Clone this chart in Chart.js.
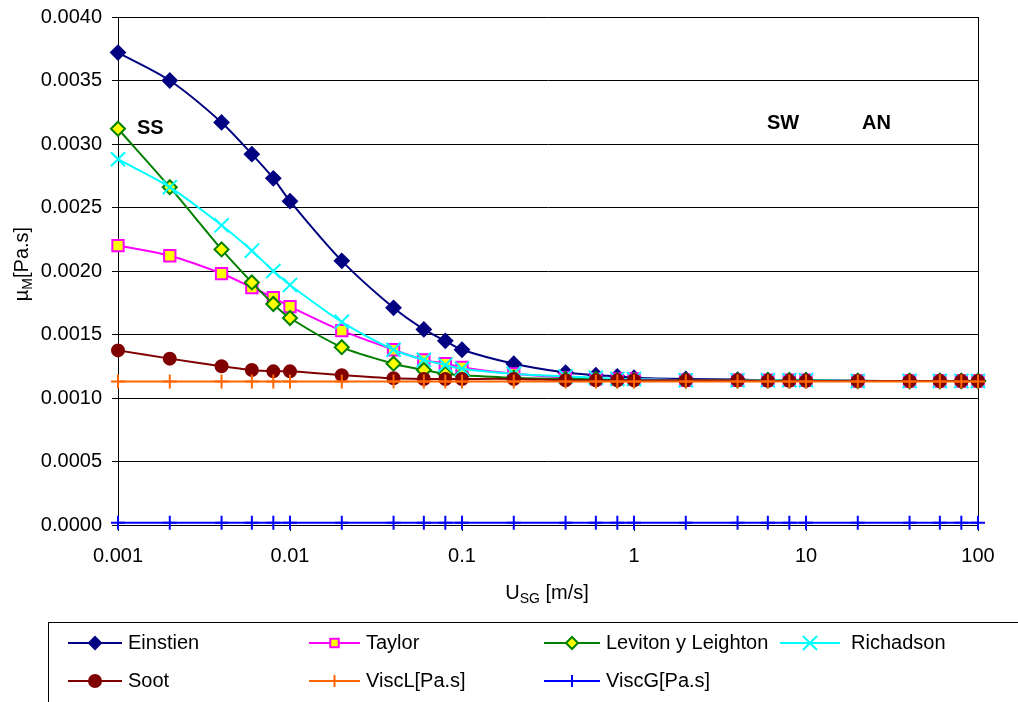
<!DOCTYPE html>
<html>
<head>
<meta charset="utf-8">
<script src="https://cdn.jsdelivr.net/npm/chart.js@4/dist/chart.umd.min.js"></script>
<style>
  html, body { margin: 0; padding: 0; background: #fff; }
  #wrap { width: 1018px; height: 702px; position: relative; }
</style>
</head>
<body>
<div id="wrap"><canvas id="grafico" width="1018" height="702"></canvas></div>
<script>
// velocidades superficiales del gas (m/s)
var usg = [0.001, 0.002, 0.004, 0.006, 0.008, 0.01, 0.02, 0.04, 0.06, 0.08, 0.1, 0.2, 0.4, 0.6, 0.8, 1, 2, 4, 6, 8, 10, 20, 40, 60, 80, 100];

var einstien = [0.00372, 0.00350, 0.00317, 0.00292, 0.00273, 0.00255, 0.00208, 0.00171, 0.00154, 0.00145, 0.00138, 0.00127, 0.00120, 0.00118, 0.00117, 0.00116, 0.00115, 0.001145, 0.00114, 0.00114, 0.00114, 0.001135, 0.001134, 0.001134, 0.001134, 0.001134];
var taylor = [0.00220, 0.00212, 0.00198, 0.00187, 0.00179, 0.00172, 0.00153, 0.00138, 0.00130, 0.00127, 0.00124, 0.00119, 0.00116, 0.00115, 0.00115, 0.00115, 0.00114, 0.00114, 0.00114, 0.00114, 0.00114, 0.001134, 0.001134, 0.001134, 0.001134, 0.001134];
var leviton = [0.00312, 0.00266, 0.00217, 0.00191, 0.00174, 0.00163, 0.00140, 0.00127, 0.00122, 0.00119, 0.00118, 0.00116, 0.00115, 0.00115, 0.00114, 0.00114, 0.00114, 0.00114, 0.00114, 0.00114, 0.00114, 0.001134, 0.001134, 0.001134, 0.001134, 0.001134];
var richadson = [0.00288, 0.00266, 0.00236, 0.00216, 0.00200, 0.00189, 0.00160, 0.00138, 0.00130, 0.00126, 0.00123, 0.00119, 0.00117, 0.00116, 0.00115, 0.00115, 0.00114, 0.00114, 0.00114, 0.00114, 0.00114, 0.001134, 0.001134, 0.001134, 0.001134, 0.001134];
var soot = [0.001375, 0.00131, 0.00125, 0.00122, 0.00121, 0.00121, 0.00118, 0.001155, 0.00115, 0.00115, 0.00115, 0.00115, 0.00114, 0.00114, 0.00114, 0.00114, 0.00114, 0.00114, 0.001135, 0.001135, 0.001135, 0.001134, 0.001134, 0.001134, 0.001134, 0.001134];
var viscL = [0.00113, 0.00113, 0.00113, 0.00113, 0.00113, 0.00113, 0.00113, 0.00113, 0.00113, 0.00113, 0.00113, 0.00113, 0.00113, 0.00113, 0.00113, 0.00113, 0.00113, 0.00113, 0.00113, 0.00113, 0.00113, 0.00113, 0.00113, 0.00113, 0.00113, 0.00113];
var viscG = [0.0000182, 0.0000182, 0.0000182, 0.0000182, 0.0000182, 0.0000182, 0.0000182, 0.0000182, 0.0000182, 0.0000182, 0.0000182, 0.0000182, 0.0000182, 0.0000182, 0.0000182, 0.0000182, 0.0000182, 0.0000182, 0.0000182, 0.0000182, 0.0000182, 0.0000182, 0.0000182, 0.0000182, 0.0000182, 0.0000182];

var xTicks = [0.001, 0.01, 0.1, 1, 10, 100];
var yTicks = [0, 0.0005, 0.001, 0.0015, 0.002, 0.0025, 0.003, 0.0035, 0.004];

var fuente = '"Liberation Sans", Arial, sans-serif';

function puntos(ys) {
  return usg.map(function (x, i) { return { x: x, y: ys[i] }; });
}

function serie(nombre, ys, linea, relleno, borde, estilo, radio, orden) {
  return {
    label: nombre,
    data: puntos(ys),
    borderColor: linea,
    borderWidth: 2,
    pointStyle: estilo,
    pointRadius: radio,
    pointBackgroundColor: relleno,
    pointBorderColor: borde,
    pointBorderWidth: 2,
    tension: 0.3,
    clip: false,
    order: orden
  };
}

var series = [
  serie('Einstien', einstien, '#000080', '#000080', '#000080', 'rectRot', 7, 6),
  serie('Taylor', taylor, '#FF00FF', '#FFFF00', '#FF00FF', 'rect', 8, 5),
  serie('Leviton y Leighton', leviton, '#008000', '#FFFF00', '#008000', 'rectRot', 7, 4),
  serie('Richadson', richadson, '#00FFFF', '#00FFFF', '#00FFFF', 'crossRot', 10, 3),
  serie('Soot', soot, '#800000', '#800000', '#800000', 'circle', 6, 2),
  serie('ViscL[Pa.s]', viscL, '#FF6600', '#FF6600', '#FF6600', 'cross', 7, 1),
  serie('ViscG[Pa.s]', viscG, '#0000FF', '#0000FF', '#0000FF', 'cross', 7, 0)
];

// texto con subindice
function conSub(ctx, partes, x, y, tam) {
  var total = 0;
  partes.forEach(function (p) {
    ctx.font = (p[1] ? tam * 0.7 : tam) + 'px ' + fuente;
    total += ctx.measureText(p[0]).width;
  });
  var cx = x - total / 2;
  partes.forEach(function (p) {
    ctx.font = (p[1] ? tam * 0.7 : tam) + 'px ' + fuente;
    ctx.fillText(p[0], cx, p[1] ? y + tam * 0.3 : y);
    cx += ctx.measureText(p[0]).width;
  });
}

var extras = {
  id: 'extras',
  afterDraw: function (chart) {
    var ctx = chart.ctx;
    ctx.save();
    ctx.fillStyle = '#000';
    ctx.textBaseline = 'middle';
    ctx.textAlign = 'left';

    // etiquetas de regimen
    ctx.font = 'bold 20px ' + fuente;
    ctx.fillText('SS', 137, 128);
    ctx.fillText('SW', 767, 123);
    ctx.fillText('AN', 862, 123);

    // titulos de ejes
    conSub(ctx, [['U', false], ['SG', true], [' [m/s]', false]], 547, 593, 20);
    ctx.save();
    ctx.translate(22, 264);
    ctx.rotate(-Math.PI / 2);
    conSub(ctx, [['\u00b5', false], ['M', true], ['[Pa.s]', false]], 0, 0, 20);
    ctx.restore();

    // leyenda
    ctx.strokeStyle = '#000';
    ctx.lineWidth = 1;
    ctx.strokeRect(48.5, 622.5, 1000, 100);
    var cols = [[68, 122, 128], [309, 360, 366], [544, 600, 606], [780, 840, 851]];
    var filas = [643, 681];
    ctx.font = '20px ' + fuente;
    series.forEach(function (ds, i) {
      var c = cols[i % 4];
      var y = filas[Math.floor(i / 4)];
      ctx.strokeStyle = ds.borderColor;
      ctx.lineWidth = 2;
      ctx.beginPath();
      ctx.moveTo(c[0], y);
      ctx.lineTo(c[1], y);
      ctx.stroke();
      ctx.fillStyle = ds.pointBackgroundColor;
      ctx.strokeStyle = ds.pointBorderColor;
      ctx.lineWidth = ds.pointBorderWidth;
      Chart.helpers.drawPoint(ctx, {
        pointStyle: ds.pointStyle,
        radius: ds.pointStyle === 'crossRot' ? 10 : 6,
        rotation: 0,
        borderWidth: ds.pointBorderWidth
      }, (c[0] + c[1]) / 2, y);
      ctx.fillStyle = '#000';
      ctx.fillText(ds.label, c[2], y);
    });
    ctx.restore();
  }
};

new Chart(document.getElementById('grafico'), {
  type: 'line',
  data: { datasets: series },
  plugins: [extras],
  options: {
    responsive: false,
    animation: false,
    events: [],
    layout: { padding: { left: 0, top: 17, right: 40, bottom: 0 } },
    plugins: { legend: { display: false }, tooltip: { enabled: false } },
    scales: {
      x: {
        type: 'logarithmic',
        min: 0.001,
        max: 100,
        afterBuildTicks: function (scale) {
          scale.ticks = xTicks.map(function (v) { return { value: v }; });
        },
        afterFit: function (scale) {
          scale.height = 177;
          scale.paddingLeft = 0;
          scale.paddingRight = 0;
        },
        border: { display: true, color: '#000', width: 1 },
        grid: {
          color: function (c) { return c.tick && c.tick.value === 100 ? '#000' : 'rgba(0,0,0,0)'; },
          tickColor: '#000',
          tickLength: 6
        },
        ticks: {
          color: '#000',
          font: { family: fuente, size: 20 },
          padding: 13,
          maxRotation: 0,
          autoSkip: false,
          callback: function (v) { return String(v); }
        }
      },
      y: {
        min: 0,
        max: 0.004,
        afterBuildTicks: function (scale) {
          scale.ticks = yTicks.map(function (v) { return { value: v }; });
        },
        afterFit: function (scale) {
          scale.width = 118;
          scale.paddingTop = 0;
          scale.paddingBottom = 0;
        },
        border: { display: true, color: '#000', width: 1 },
        grid: { color: '#000', tickColor: '#000', tickLength: 6 },
        ticks: {
          color: '#000',
          font: { family: fuente, size: 20 },
          padding: 10,
          callback: function (v) { return v.toFixed(4); }
        }
      }
    }
  }
});
</script>
</body>
</html>
